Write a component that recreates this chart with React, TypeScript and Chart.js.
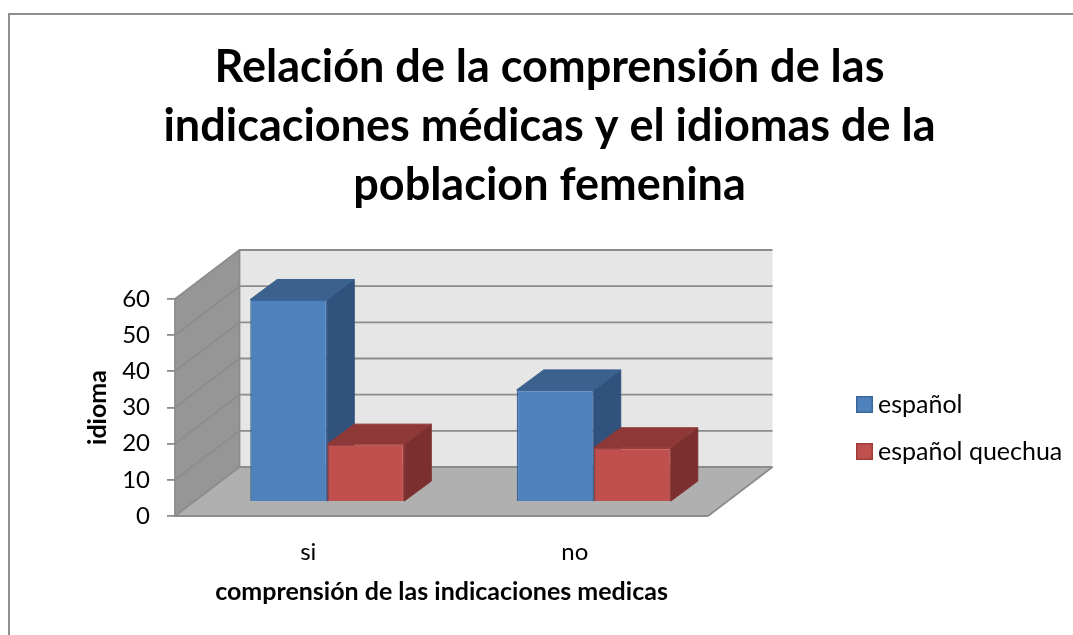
import React, { useEffect, useRef } from "react";
import { Chart, registerables } from "chart.js";

Chart.register(...registerables);

const categories = ["si", "no"];
const seriesNames = ["español", "español quechua"];
const espanol = [56, 31];
const espanolQuechua = [16, 15];
const yTicks = [0, 10, 20, 30, 40, 50, 60];
const titleLines = [
  "Relación de la comprensión de las",
  "indicaciones médicas y el idiomas de la",
  "poblacion femenina",
];
const xTitle = "comprensión de las indicaciones medicas";
const yTitle = "idioma";

const FONT = "Lato, Carlito, sans-serif";
const WALL = { dx: 64.5, dy: -49 };
const BAR_SHIFT = { dx: 19, dy: -14 };
const BAR_DEPTH = { dx: 27, dy: -20 };
const faces = [
  { top: "#3b618f", side: "#31527c" },
  { top: "#8e3937", side: "#7b2f2e" },
];

const poly = (ctx: CanvasRenderingContext2D, pts: number[][], fill: string, stroke?: string, lw = 1) => {
  ctx.beginPath();
  pts.forEach((p, i) => (i ? ctx.lineTo(p[0], p[1]) : ctx.moveTo(p[0], p[1])));
  ctx.closePath();
  ctx.fillStyle = fill;
  ctx.fill();
  if (stroke) {
    ctx.strokeStyle = stroke;
    ctx.lineWidth = lw;
    ctx.stroke();
  }
};

const swatch = (fill: string, stroke: string) => {
  const c = document.createElement("canvas");
  c.width = 17;
  c.height = 17;
  const ctx = c.getContext("2d") as CanvasRenderingContext2D;
  ctx.fillStyle = fill;
  ctx.fillRect(0, 0, 17, 17);
  ctx.strokeStyle = stroke;
  ctx.lineWidth = 1.5;
  ctx.strokeRect(0.75, 0.75, 15.5, 15.5);
  return c;
};

const scene = {
  id: "scene3d",
  beforeLayout(chart: any) {
    const legend = chart.legend;
    if (!legend.__patched) {
      legend.__patched = true;
      const fit = legend.fit;
      legend.fit = function () {
        fit.call(this);
        this.width = 365;
      };
    }
  },
  afterLayout(chart: any) {
    chart.legend.left = 841.5;
    chart.legend.right = 1073;
    chart.legend.top = 370;
  },
  beforeDraw(chart: any) {
    const ctx = chart.ctx;
    ctx.save();
    ctx.fillStyle = "#ffffff";
    ctx.fillRect(0, 0, chart.width, chart.height);
    ctx.strokeStyle = "#8e8e8e";
    ctx.lineWidth = 2;
    ctx.beginPath();
    ctx.moveTo(9, chart.height);
    ctx.lineTo(9, 14);
    ctx.lineTo(chart.width, 14);
    ctx.stroke();
    ctx.restore();
  },
  beforeDatasetsDraw(chart: any) {
    const ctx = chart.ctx;
    const { left, right } = chart.chartArea;
    const y = chart.scales.y;
    const y0 = y.getPixelForValue(yTicks[0]);
    const yMax = y.getPixelForValue(yTicks[yTicks.length - 1]);
    const { dx, dy } = WALL;
    ctx.save();
    poly(ctx, [[left + dx, yMax + dy], [right + dx, yMax + dy], [right + dx, y0 + dy], [left + dx, y0 + dy]], "#e6e6e6");
    poly(ctx, [[left, y0], [left, yMax], [left + dx, yMax + dy], [left + dx, y0 + dy]], "#969696");
    poly(ctx, [[left, y0], [left + dx, y0 + dy], [right + dx, y0 + dy], [right, y0]], "#b0b0b0");
    ctx.strokeStyle = "#8c8c8c";
    ctx.lineWidth = 1.8;
    yTicks.forEach((t) => {
      const py = y.getPixelForValue(t);
      ctx.beginPath();
      ctx.moveTo(left, py);
      ctx.lineTo(left + dx, py + dy);
      ctx.lineTo(right + dx, py + dy);
      ctx.stroke();
    });
    ctx.beginPath();
    ctx.moveTo(right, y0);
    ctx.lineTo(right + dx, y0 + dy);
    ctx.stroke();
    ctx.beginPath();
    ctx.moveTo(left + dx, yMax + dy);
    ctx.lineTo(left + dx, y0 + dy);
    ctx.stroke();
    ctx.beginPath();
    ctx.moveTo(left, yMax);
    ctx.lineTo(left, y0);
    ctx.lineTo(right, y0);
    ctx.stroke();
    // 3D side and top faces, back series first, fronts come from the bar elements
    ctx.translate(BAR_SHIFT.dx, BAR_SHIFT.dy);
    faces.forEach((face, i) => {
      chart.getDatasetMeta(i).data.forEach((bar: any) => {
        const { x, y: top, base, width } = bar.getProps(["x", "y", "base", "width"], true);
        const l = x - width / 2;
        const r = x + width / 2;
        const d = BAR_DEPTH;
        poly(ctx, [[r, top], [r + d.dx, top + d.dy], [r + d.dx, base + d.dy], [r, base]], face.side, face.side, 1);
        poly(ctx, [[l, top], [l + d.dx, top + d.dy], [r + d.dx, top + d.dy], [r, top]], face.top, face.top, 1);
      });
    });
    ctx.restore();
  },
  beforeDatasetDraw(chart: any) {
    chart.ctx.save();
    chart.ctx.translate(BAR_SHIFT.dx, BAR_SHIFT.dy);
  },
  afterDatasetDraw(chart: any) {
    chart.ctx.restore();
  },
};

export default function App() {
  const ref = useRef<HTMLCanvasElement>(null);
  useEffect(() => {
    const chart = new Chart(ref.current as HTMLCanvasElement, {
      type: "bar",
      data: {
        labels: categories,
        datasets: [
          {
            label: seriesNames[0],
            data: espanol,
            backgroundColor: "#4f81bd",
            borderColor: "#3a669b",
            borderWidth: 1.5,
            clip: false,
          },
          {
            label: seriesNames[1],
            data: espanolQuechua,
            backgroundColor: "#c0504d",
            borderColor: "#a03c3a",
            borderWidth: 1.5,
            clip: false,
          },
        ] as any,
      },
      options: {
        responsive: false,
        animation: false,
        devicePixelRatio: 1,
        layout: { padding: { left: 26 } },
        datasets: { bar: { barPercentage: 1, categoryPercentage: 0.578 } },
        plugins: {
          tooltip: { enabled: false },
          title: {
            display: true,
            text: titleLines,
            color: "#000000",
            font: { family: FONT, size: 45, weight: "bold", lineHeight: 59 / 45 },
            padding: { top: 38, bottom: 84 },
          },
          legend: {
            display: true,
            position: "right",
            align: "start",
            labels: {
              usePointStyle: true,
              pointStyleWidth: 2,
              boxHeight: 16,
              padding: 22,
              color: "#000000",
              font: { family: FONT, size: 25 },
              generateLabels: (c: any) =>
                c.data.datasets.map((d: any, i: number) => ({
                  text: d.label,
                  pointStyle: swatch(d.backgroundColor, d.borderColor),
                  datasetIndex: i,
                  fontColor: "#000000",
                })),
            },
          } as any,
        },
        scales: {
          x: {
            afterFit: (s: any) => {
              s.height = 119;
            },
            grid: { display: false },
            border: { display: false },
            ticks: { padding: 14, color: "#000000", font: { family: FONT, size: 24 } },
            title: {
              display: true,
              text: xTitle,
              color: "#000000",
              font: { family: FONT, size: 25, weight: "bold" },
              padding: { top: 0, bottom: 28 },
            },
          },
          y: {
            min: yTicks[0],
            max: yTicks[yTicks.length - 1],
            afterFit: (s: any) => {
              s.width = 149;
            },
            grid: { drawOnChartArea: false, drawTicks: true, tickLength: 8, color: "#8c8c8c", lineWidth: 1.8 },
            border: { display: false },
            ticks: {
              stepSize: 10,
              padding: 17,
              color: "#000000",
              font: { family: FONT, size: 24 },
            },
            title: {
              display: true,
              text: yTitle,
              color: "#000000",
              font: { family: FONT, size: 25, weight: "bold" },
              padding: { top: 57, bottom: 0 },
            },
          },
        },
      },
      plugins: [scene],
    } as any);
    return () => chart.destroy();
  }, []);
  return (
    <canvas
      ref={ref}
      width={1073}
      height={635}
      style={{ position: "absolute", left: 0, top: 0, width: 1073, height: 635, display: "block" }}
    />
  );
}
